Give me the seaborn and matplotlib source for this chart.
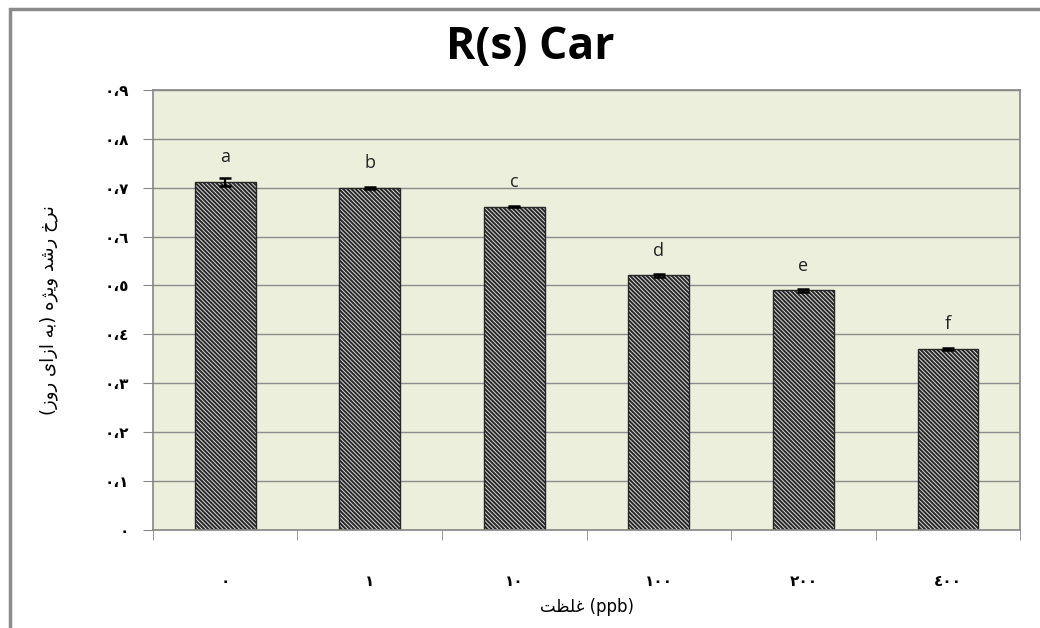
import seaborn as sns
import matplotlib.pyplot as plt
from matplotlib.patches import Rectangle

# data
concentrations = ['٠', '١', '١٠', '١٠٠', '٢٠٠', '٤٠٠']
growth_rate = [0.712, 0.700, 0.661, 0.521, 0.490, 0.371]
errors = [0.008, 0.002, 0.001, 0.003, 0.003, 0.002]
letters = ['a', 'b', 'c', 'd', 'e', 'f']
y_ticks = [0, 0.1, 0.2, 0.3, 0.4, 0.5, 0.6, 0.7, 0.8, 0.9]
y_tick_labels = ['٠', '٠،١', '٠،٢', '٠،٣', '٠،٤', '٠،٥', '٠،٦', '٠،٧', '٠،٨', '٠،٩']

# matplotlib does no Arabic shaping, so the Persian labels are written
# with presentation forms in visual (left-to-right) order
# "نرخ رشد ویژه (به ازای روز)"
y_title = ('(\uFEAF\uFEED\uFEAD \uFBFC\uFE8D\uFEAF\uFE8D \uFEEA\uFE91) '
           '\uFEE9\uFB8B\uFBFE\uFEED \uFEAA\uFEB7\uFEAD \uFEA5\uFEAE\uFEE7')
# "غلظت (ppb)"
x_title = '\uFE96\uFEC8\uFEE0\uFECF (ppb)'

plt.rcParams['hatch.linewidth'] = 1.4

fig = plt.figure(figsize=(10.4, 6.28), dpi=100)
ax = fig.add_axes([0.147, 0.156, 0.834, 0.701])

sns.barplot(x=concentrations, y=growth_rate, color='#d8d8d8', width=0.42,
            order=concentrations, ax=ax)
for p in ax.patches:
    p.set_hatch('\\' * 8)
    p.set_edgecolor('#262626')
    p.set_linewidth(1.0)

ax.errorbar(range(len(growth_rate)), growth_rate, yerr=errors, fmt='none',
            ecolor='black', elinewidth=1.6, capsize=4, capthick=1.8, zorder=5)

for i, (v, l) in enumerate(zip(growth_rate, letters)):
    ax.text(i, v + 0.05, l, ha='center', va='center', fontsize=13,
            family='Open Sans', color='#222222')

ax.set_facecolor('#ebefdb')
ax.set_ylim(0, 0.9)
ax.set_xlim(-0.5, 5.5)
ax.set_yticks(y_ticks)
ax.set_yticklabels(y_tick_labels, fontsize=11, fontweight='bold')
ax.yaxis.grid(True, color='#8c8c8c', linewidth=1)
ax.set_axisbelow(True)

ax.set_xticks(range(6))
ax.set_xticklabels(concentrations, fontsize=11, fontweight='bold')
ax.set_xticks([i - 0.5 for i in range(7)], minor=True)
ax.tick_params(axis='x', which='major', length=0, pad=32)
ax.tick_params(axis='x', which='minor', length=7, color='#868686')
ax.tick_params(axis='y', length=7, color='#868686', pad=10)

for s in ax.spines.values():
    s.set_color('#868686')
    s.set_linewidth(1.2)

ax.set_xlabel(x_title, fontsize=12, labelpad=6)
ax.set_ylabel(y_title, fontsize=13, labelpad=34)

fig.text(0.51, 0.925, 'R(s) Car', ha='center', va='center', fontsize=32,
         fontweight='bold', family='Open Sans')

fig.add_artist(Rectangle((0.0096, -0.05), 1.1, 1.036, transform=fig.transFigure,
                         fill=False, edgecolor='#8a8a8a', linewidth=2.5))

fig.savefig('out.png', dpi=100)
